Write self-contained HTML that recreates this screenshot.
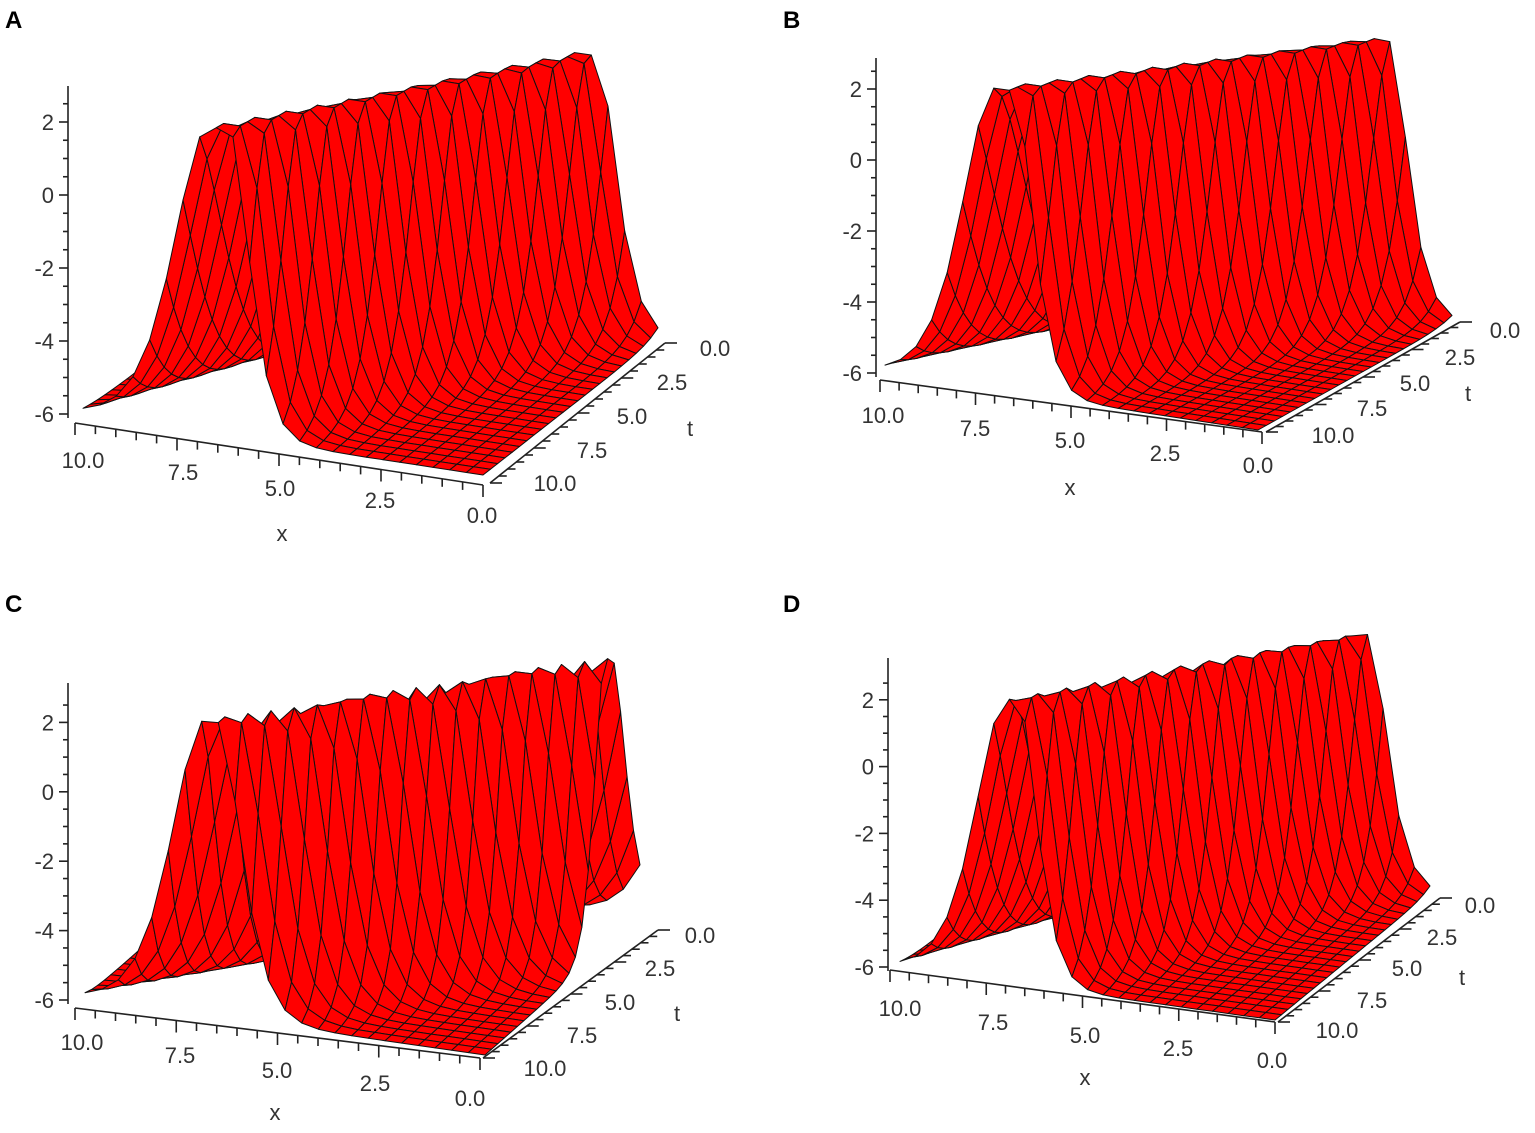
<!DOCTYPE html>
<html><head><meta charset="utf-8">
<style>
html,body{margin:0;padding:0;background:#fff;}
svg{display:block;font-family:"Liberation Sans",sans-serif;}
.lbl{font-size:22px;fill:#333;}
.pl{font-size:24px;font-weight:bold;fill:#000;}
</style></head>
<body>
<svg id="fig" width="1535" height="1133" viewBox="0 0 1535 1133"></svg>
<script>
// ---- data ----
const panelNames = ["A","B","C","D"];
const ridgeCenterAtT10 = [6.6, 6.8, 6.85, 7.0];
const ridgeSpeed = [0.48, 0.485, 0.865, 0.52];
const ridgeHalfWidth = [0.25, 0.25, 0.15, 0.15];
const ridgeSharpness = [1.5, 1.5, 1.25, 1.5];
const ridgeSharpnessLeft = [0.85, 0.85, 0.9, 0.9];
const ridgeAmplitude = [8.4, 8.5, 8.5, 8.5];
const baseLevel = -6;
const zTicks = [2, 0, -2, -4, -6];
const zTickLabels = ["2","0","-2","-4","-6"];
const xTicks = [10, 7.5, 5, 2.5, 0];
const xTickLabels = ["10.0","7.5","5.0","2.5","0.0"];
const tTicks = [10, 7.5, 5, 2.5, 0];
const tTickLabels = ["10.0","7.5","5.0","2.5","0.0"];
const gridN = 25;

// ---- layout (projection geometry) ----
const layout = [
 {letter:[5,28], corA:[83,414], corB:[483,475], corC:[658,338], ez:36.5, persp:0.011, zx:68, zTop:86, zAxisBase:414,
  xa:[[75,423],[483,485]], ta:[[490,483],[665,343]], xLab:[[83,460],[183,472],[280,488],[380,500],[482,515]], xName:[282,533],
  tLab:[[555,483],[592,450],[632,416],[672,382],[715,348]], tName:[690,428]},
 {letter:[783,28], corA:[885,373], corB:[1258,430], corC:[1452,322], ez:35.5, persp:0.01, zx:876, zTop:58, zAxisBase:373,
  xa:[[880,380],[1262,432]], ta:[[1266,432],[1460,322]], xLab:[[883,415],[975,428],[1070,440],[1165,453],[1258,465]], xName:[1070,487],
  tLab:[[1333,435],[1372,408],[1415,383],[1460,357],[1505,330]], tName:[1468,393]},
 {letter:[5,612], corA:[85,998], corB:[485,1055], corC:[640,918], ez:34.7, persp:0.003, zx:68, zTop:683, zAxisBase:1000,
  xa:[[75,1008],[480,1058]], ta:[[483,1058],[658,930]], xLab:[[82,1042],[180,1055],[277,1070],[375,1083],[470,1098]], xName:[275,1112],
  tLab:[[545,1068],[582,1035],[620,1002],[660,968],[700,935]], tName:[677,1013]},
 {letter:[783,612], corA:[900,968], corB:[1275,1020], corC:[1430,893], ez:33.4, persp:0.012, zx:888, zTop:658, zAxisBase:967,
  xa:[[890,970],[1275,1022]], ta:[[1278,1022],[1440,898]], xLab:[[900,1008],[993,1022],[1085,1035],[1178,1048],[1272,1060]], xName:[1085,1077],
  tLab:[[1337,1030],[1372,1000],[1407,968],[1442,937],[1480,905]], tName:[1462,977]}
];

const NS = "http://www.w3.org/2000/svg";
const svg = document.getElementById("fig");
function mk(tag, attrs, parent){
  const e = document.createElementNS(NS, tag);
  for (const k in attrs) e.setAttribute(k, attrs[k]);
  (parent||svg).appendChild(e);
  return e;
}
function sech(v){ return 2/(Math.exp(v)+Math.exp(-v)); }

panelNames.forEach((name, p) => {
  const L = layout[p];
  const g = mk("g", {});
  
  
  const ex = [(L.corA[0]-L.corB[0])/10, (L.corA[1]-L.corB[1])/10];
  const et = [(L.corC[0]-L.corB[0])/10, (L.corC[1]-L.corB[1])/10];
  function proj(x, t, z){
    const s = 10 - t;
    const zs = L.ez*(1 - L.persp*s);
    return [L.corB[0] + x*ex[0] + s*et[0], L.corB[1] + x*ex[1] + s*et[1] - (z - baseLevel)*zs];
  }
  function u(x, t){
    const c = ridgeCenterAtT10[p] - ridgeSpeed[p]*(10 - t);
    const d = x - c;
    const w = ridgeHalfWidth[p];
    const dd = Math.max(0, Math.abs(d) - w);
    const k = d > 0 ? ridgeSharpnessLeft[p] : ridgeSharpness[p];
    const s = sech(k*dd);
    return baseLevel + ridgeAmplitude[p]*s*s;
  }
  const lt = mk("text", {x:L.letter[0], y:L.letter[1], class:"pl"}, g);
  lt.textContent = name;
  
  

  const ax = mk("g", {stroke:"#222","stroke-width":1.6, fill:"none"}, g);
  
  
  const zl = mk("line", {x1:L.zx, y1:L.zTop, x2:L.zx, y2:L.zAxisBase+4}, ax);
  
  
  function zy(z){ return L.zAxisBase - (z - baseLevel)*L.ez; }
  for (let z = -6; z <= 2.8; z += 0.5){
    const major = Math.abs(z - Math.round(z/2)*2) < 1e-6;
    const tk = mk("line", {x1:L.zx - (major?9:5), y1:zy(z), x2:L.zx, y2:zy(z)}, ax);
    
    
  }
  zTicks.forEach((z, i) => {
    const tx = mk("text", {x:L.zx-14, y:zy(z)+8, class:"lbl","text-anchor":"end"}, g);
    tx.textContent = zTickLabels[i];
    
    
  });
  const xl = mk("line", {x1:L.xa[0][0], y1:L.xa[0][1], x2:L.xa[1][0], y2:L.xa[1][1]}, ax);
  
  
  for (let k = 0; k <= 20; k++){
    const f = k/20;
    const px = L.xa[0][0] + f*(L.xa[1][0]-L.xa[0][0]);
    const py = L.xa[0][1] + f*(L.xa[1][1]-L.xa[0][1]);
    const tk = mk("line", {x1:px, y1:py, x2:px, y2:py + (k%5===0?12:8)}, ax);
    
    
  }
  xTicks.forEach((v, i) => {
    const tx = mk("text", {x:L.xLab[i][0], y:L.xLab[i][1]+8, class:"lbl","text-anchor":"middle"}, g);
    tx.textContent = xTickLabels[i];
    
    
  });
  const xn = mk("text", {x:L.xName[0], y:L.xName[1]+8, class:"lbl","text-anchor":"middle"}, g);
  xn.textContent = "x";
  
  
  const tl = mk("line", {x1:L.ta[0][0], y1:L.ta[0][1], x2:L.ta[1][0], y2:L.ta[1][1]}, ax);
  
  
  for (let k = 0; k <= 20; k++){
    const f = k/20;
    const px = L.ta[0][0] + f*(L.ta[1][0]-L.ta[0][0]);
    const py = L.ta[0][1] + f*(L.ta[1][1]-L.ta[0][1]);
    const tk = mk("line", {x1:px, y1:py, x2:px + (k%5===0?12:8), y2:py}, ax);
    
    
  }
  tTicks.forEach((v, i) => {
    const tx = mk("text", {x:L.tLab[i][0], y:L.tLab[i][1]+8, class:"lbl","text-anchor":"middle"}, g);
    tx.textContent = tTickLabels[i];
    
    
  });
  const tn = mk("text", {x:L.tName[0], y:L.tName[1]+8, class:"lbl","text-anchor":"middle"}, g);
  tn.textContent = "t";
  
  

  const sg = mk("g", {fill:"#ff0000", stroke:"#111", "stroke-width":1, "stroke-linejoin":"round"}, g);
  
  
  const h = 10/(gridN-1);
  const quads = [];
  for (let i = 0; i < gridN-1; i++){
    for (let j = 0; j < gridN-1; j++){
      const x0 = i*h, x1 = (i+1)*h, t0 = j*h, t1 = (j+1)*h;
      const pts = [[x0,t0],[x1,t0],[x1,t1],[x0,t1]].map(q => proj(q[0], q[1], u(q[0], q[1])));
      const key = (x0+x1)/2 + (10 - (t0+t1)/2);
      quads.push({key, pts});
    }
  }
  quads.sort((a,b) => b.key - a.key);
  quads.forEach(q => {
    const poly = mk("polygon", {points:q.pts.map(v => v[0].toFixed(1)+","+v[1].toFixed(1)).join(" ")}, sg);
    
    
  });
});
</script>
</body></html>
